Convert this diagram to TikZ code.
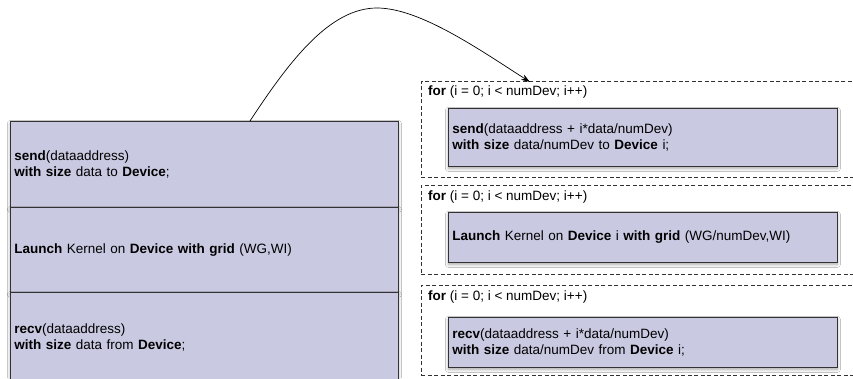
\documentclass[tikz,border=0pt]{standalone}
\usepackage{fontspec}
\setmainfont{Liberation Sans}
\usetikzlibrary{arrows.meta,calc,shadows.blur}
\definecolor{boxfill}{RGB}{201,201,226}
\definecolor{boxline}{RGB}{50,50,50}
\begin{document}
\begin{tikzpicture}[x=1pt,y=-1pt,
  font=\fontsize{13.5}{16.5}\selectfont,
  shad/.style={blur shadow={shadow blur steps=6, shadow xshift=0pt, shadow yshift=-2pt, shadow blur radius=3pt, shadow opacity=35}},
  section/.style={draw=boxline, line width=0.8pt, fill=boxfill, anchor=north west, minimum width=388pt, text width=380pt, inner xsep=3pt, align=left, shad},
  outerbox/.style={draw=boxline, line width=0.7pt, dash pattern=on 4pt off 2.5pt, anchor=north west, minimum width=450pt, inner sep=0pt},
  innerbox/.style={draw=boxline, line width=0.8pt, fill=boxfill, anchor=north west, minimum width=389pt, text width=381pt, inner xsep=4pt, align=left, shad},
  fortext/.style={anchor=west, inner sep=0pt}
]
\useasboundingbox (0,0) rectangle (853,378);
\clip (0,0) rectangle (853,378);
\fill[white] (0,0) rectangle (853,378);

% left stack
\node[section, minimum height=86pt] (s1) at (10,121) {\textbf{send}(dataaddress)\\\textbf{with size} data to \textbf{Device};};
\node[section, minimum height=85pt] (s2) at (10,207) {\textbf{Launch} Kernel on \textbf{Device with grid} (WG,WI)};
\node[section, minimum height=90pt] (s3) at (10,292) {\textbf{recv}(dataaddress)\\\textbf{with size} data from \textbf{Device};};

% right loops
\node[outerbox, minimum height=96pt] (f1) at (421,81) {};
\node[fortext] (t1) at (428,92) {\textbf{for} (i = 0; i {\char`<} numDev; i++)};
\node[innerbox, minimum height=58pt] (b1) at (448,108) {\textbf{send}(dataaddress + i*data/numDev)\\\textbf{with size} data/numDev to \textbf{Device} i;};

\node[outerbox, minimum height=89pt] (f2) at (421,185) {};
\node[fortext] (t2) at (428,197) {\textbf{for} (i = 0; i {\char`<} numDev; i++)};
\node[innerbox, minimum height=50pt] (b2) at (448,212) {\textbf{Launch} Kernel on \textbf{Device} i \textbf{with grid} (WG/numDev,WI)};

\node[outerbox, minimum height=90pt] (f3) at (421,285) {};
\node[fortext] (t3) at (428,297) {\textbf{for} (i = 0; i {\char`<} numDev; i++)};
\node[innerbox, minimum height=50pt] (b3) at (448,317) {\textbf{recv}(dataaddress + i*data/numDev)\\\textbf{with size} data/numDev from \textbf{Device} i;};

% connector
\coordinate (cs) at ($(s1.north west)+(240pt,0)$);
\coordinate (ce) at ($(f1.north west)+(109pt,-1pt)$);
\draw[line width=0.7pt, -{Stealth[length=9pt,width=6pt]}] (cs) .. controls (290,60) and (330,8) .. (377,8) .. controls (420,8) and (480,50) .. (ce);
\end{tikzpicture}
\end{document}
